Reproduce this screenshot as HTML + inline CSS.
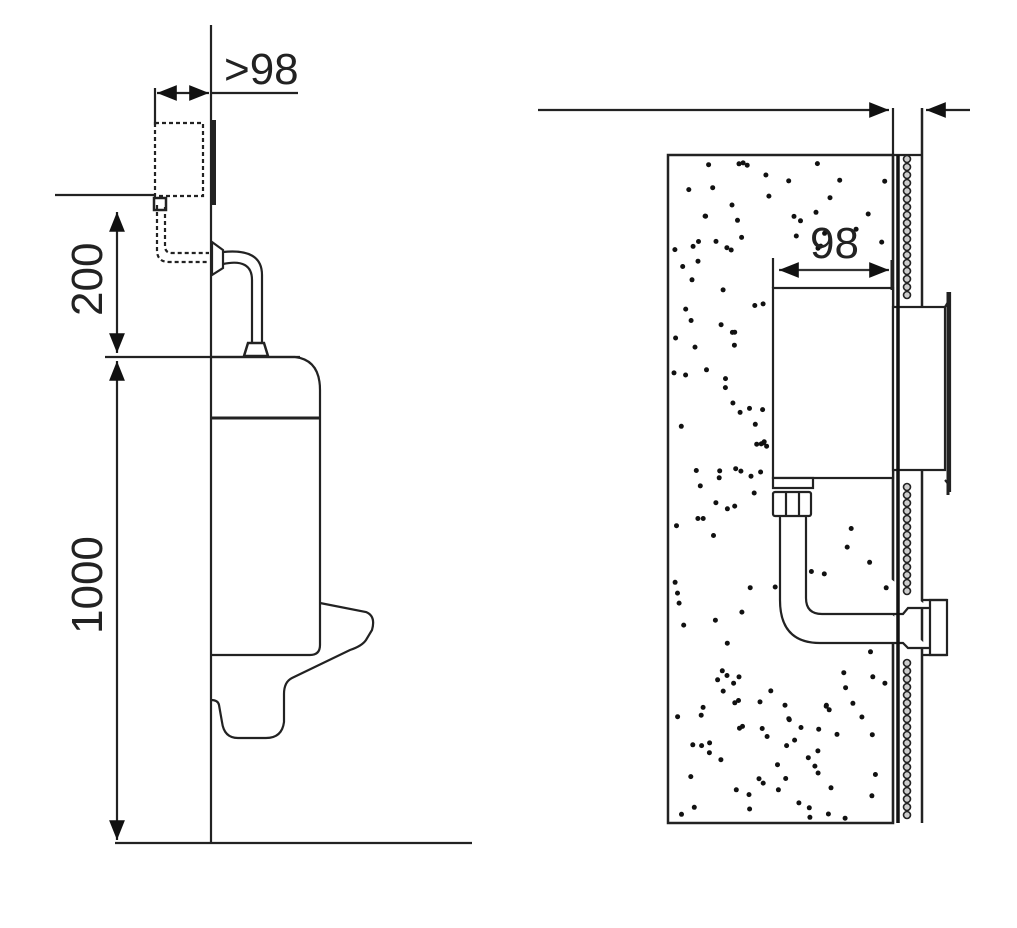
<!DOCTYPE html>
<html><head><meta charset="utf-8"><style>html,body{margin:0;padding:0;background:#fff}svg{display:block}</style></head>
<body>
<svg id="s" width="1017" height="928" viewBox="0 0 1017 928" xmlns="http://www.w3.org/2000/svg" font-family="Liberation Sans, sans-serif">
<defs>
<marker id="a" viewBox="0 0 10 10" refX="10" refY="5" markerWidth="9" markerHeight="9" orient="auto-start-reverse"><path d="M0,1 L10,5 L0,9 z" fill="#111"/></marker>
</defs>
<g stroke="#222" stroke-width="2.2" fill="none">
<line x1="211" y1="25" x2="211" y2="843"/>
<line x1="115" y1="843" x2="472" y2="843"/>
<line x1="211" y1="93" x2="298" y2="93"/>
<line x1="157" y1="93" x2="209" y2="93" marker-start="url(#a)" marker-end="url(#a)"/>
<line x1="155" y1="88" x2="155" y2="125"/>
<rect x="155" y="123" width="48" height="73" stroke-dasharray="4,3"/>
<line x1="214" y1="120" x2="214" y2="205" stroke-width="4"/>
<line x1="55" y1="195" x2="155" y2="195"/>
<path d="M157,205 V250 Q157,262 169,262 H209 M165,207 V246 Q165,253 172,253 H209" stroke-dasharray="4,3"/>
<rect x="154" y="198" width="12" height="12" stroke-width="2.5"/>
<line x1="117" y1="212" x2="117" y2="353" marker-start="url(#a)" marker-end="url(#a)"/>
<line x1="105" y1="357" x2="300" y2="357"/>
<line x1="117" y1="361" x2="117" y2="840" marker-start="url(#a)" marker-end="url(#a)"/>
<path d="M212,242 L223,250 L223,268 L212,275 z" fill="#fff"/>
<path d="M223,252 Q262,248 262,275 V342 M223,264 Q252,258 252,280 V342"/>
<path d="M244,356 L248,343 H264 L268,356 z" stroke-width="2.5" fill="#fff"/>
<path d="M211,357 H295 Q320,360 320,390 V645 Q320,655 310,655 H211"/>
<line x1="211" y1="418" x2="320" y2="418" stroke-width="3"/>
<path d="M320,603 L366,612 Q376,616 372,630 L366,640 Q362,646 350,650 L292,678 Q284,682 284,694 L284,722 Q282,738 266,738 H238 Q224,738 222,722 L219,705 Q218,700 211,700"/>
<line x1="538" y1="110" x2="889" y2="110" marker-end="url(#a)"/>
<line x1="970" y1="110" x2="926" y2="110" marker-end="url(#a)"/>
<line x1="893" y1="108" x2="893" y2="823"/>
<line x1="922" y1="108" x2="922" y2="823" stroke-width="2.5"/>
<rect x="668" y="155" width="225" height="668" stroke-width="2.5"/>
<line x1="893" y1="155" x2="922" y2="155"/>
<rect x="773" y="288" width="120" height="190" fill="#fff"/>
<line x1="773" y1="258" x2="773" y2="288"/>
<line x1="779" y1="270" x2="889" y2="270" marker-start="url(#a)" marker-end="url(#a)" stroke="#333"/>
<line x1="892" y1="260" x2="892" y2="290" stroke-width="3"/>
<rect x="893" y="307" width="52" height="163" fill="#fff"/>
<path d="M945,307 Q950,300 950,292 V492 Q950,485 945,480" />
<line x1="948" y1="292" x2="948" y2="495" stroke-width="3"/>
<rect x="773" y="478" width="40" height="10" fill="#fff"/>
<rect x="773" y="492" width="38" height="24" rx="2" fill="#fff"/>
<line x1="786" y1="492" x2="786" y2="516"/><line x1="799" y1="492" x2="799" y2="516"/>
<path d="M780,516 V600 Q780,643 820,643 H903 L908,648 H930 M806,516 V598 Q806,614 822,614 H903 L908,608 H930" fill="#fff"/>
<rect x="930" y="600" width="17" height="55" fill="#fff"/>
<line x1="922" y1="600" x2="947" y2="600"/><line x1="922" y1="655" x2="947" y2="655"/>
</g>
<g id="tiles" fill="#ccc" stroke="#222" stroke-width="1.6"></g>
<g id="dots" fill="#111"></g>
<g fill="#222" font-size="44">
<text x="224" y="84">&gt;98</text>
<text x="810" y="258">98</text>
<text transform="translate(102,316) rotate(-90)">200</text>
<text transform="translate(102,634) rotate(-90)">1000</text>
</g>
</svg>
<script>
var ns="http://www.w3.org/2000/svg";
var t=document.getElementById('tiles');
for(var y=159;y<822;y+=8){ if(y>300&&y<480)continue; if(y>596&&y<658)continue;
 var c=document.createElementNS(ns,'circle');c.setAttribute('cx',907);c.setAttribute('cy',y);c.setAttribute('r',3.5);t.appendChild(c);}
var l=document.createElementNS(ns,'line');l.setAttribute('x1',898);l.setAttribute('x2',898);l.setAttribute('y1',155);l.setAttribute('y2',823);l.setAttribute('stroke-width',3.5);l.setAttribute('stroke','#111');t.appendChild(l);
var d=document.getElementById('dots');var s=12345;function r(){s=(s*1103515245+12345)%2147483648;return s/2147483648;}
for(var i=0;i<230;i++){var x=672+r()*218,y=160+r()*660;
 if(x>768&&x<895&&y>250&&y<520)continue;
 if(x>774&&x<935&&y>590&&y<650)continue;
 if(x>776&&x<810&&y>510&&y<650)continue;
 var c=document.createElementNS(ns,'circle');c.setAttribute('cx',x.toFixed(1));c.setAttribute('cy',y.toFixed(1));c.setAttribute('r',2.5);d.appendChild(c);}
</script>
</body></html>
